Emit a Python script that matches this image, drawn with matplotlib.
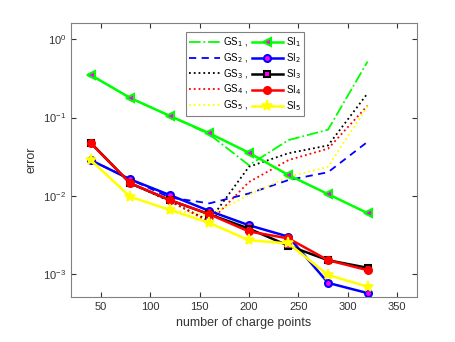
import matplotlib
matplotlib.use("Agg")
import matplotlib.pyplot as plt

x = [40, 80, 120, 160, 200, 240, 280, 320]

gs1 = [0.35, 0.178, 0.105, 0.061, 0.0246, 0.0515, 0.070, 0.52]
gs2 = [0.0286, 0.0162, 0.0095, 0.0080, 0.0107, 0.0159, 0.0200, 0.049]
gs3 = [0.047, 0.0144, 0.0085, 0.0048, 0.0235, 0.035, 0.044, 0.204]
gs4 = [0.047, 0.0145, 0.0086, 0.0046, 0.0150, 0.0286, 0.040, 0.142]
gs5 = [0.0286, 0.0097, 0.0066, 0.0056, 0.0103, 0.0175, 0.0235, 0.140]

si1 = [0.35, 0.178, 0.105, 0.063, 0.0355, 0.0184, 0.0105, 0.0060]
si2 = [0.0286, 0.0162, 0.0102, 0.0064, 0.0042, 0.0030, 0.00077, 0.00057]
si3 = [0.0476, 0.0144, 0.0088, 0.0058, 0.0038, 0.0023, 0.0015, 0.0012]
si4 = [0.047, 0.0145, 0.0088, 0.0058, 0.0035, 0.00285, 0.0015, 0.00112]
si5 = [0.0286, 0.0097, 0.0066, 0.0045, 0.0027, 0.00246, 0.00097, 0.00069]

gs_labels = ["GS$_1$ ,", "GS$_2$ ,", "GS$_3$ ,", "GS$_4$ ,", "GS$_5$ ,"]
si_labels = ["SI$_1$", "SI$_2$", "SI$_3$", "SI$_4$", "SI$_5$"]
xticks = [50, 100, 150, 200, 250, 300, 350]

plt.rcParams['font.family'] = ['Liberation Sans', 'DejaVu Sans']
fig = plt.figure(figsize=(4.55, 3.42), dpi=100)
ax = fig.add_axes([0.156, 0.1316, 0.7605, 0.8011])

green = (0, 1, 0)
blue = (0, 0, 1)
black = (0, 0, 0)
red = (1, 0, 0)
yellow = (1, 1, 0)
mag = (1, 0, 1)

hg = []
hg += ax.plot(x, gs1, color=green, ls='-.', lw=1.3, label=gs_labels[0])
hg += ax.plot(x, gs2, color=blue, ls=(0, (4, 3)), lw=1.3, label=gs_labels[1])
hg += ax.plot(x, gs3, color=black, ls=':', lw=1.3, label=gs_labels[2])
hg += ax.plot(x, gs4, color=red, ls=':', lw=1.3, label=gs_labels[3])
hg += ax.plot(x, gs5, color=yellow, ls=':', lw=1.3, label=gs_labels[4])

hs = []
hs += ax.plot(x, si1, color=green, lw=1.8, marker='<', ms=6, mfc=mag, mec=green, mew=1.5, label=si_labels[0])
hs += ax.plot(x, si2, color=blue, lw=1.8, marker='o', ms=5, mfc=mag, mec=blue, mew=1.5, label=si_labels[1])
hs += ax.plot(x, si3, color=black, lw=1.8, marker='s', ms=5, mfc=mag, mec=black, mew=1.5, label=si_labels[2])
hs += ax.plot(x, si4, color=red, lw=1.8, marker='o', ms=5, mfc=red, mec=red, mew=1.5, label=si_labels[3])
hs += ax.plot(x, si5, color=yellow, lw=1.8, marker='*', ms=8, mfc=yellow, mec=yellow, mew=1.2, label=si_labels[4])

ax.set_yscale('log')
ax.set_xlim(20, 370)
ax.set_ylim(10**-3.294, 10**0.209)
ax.set_xticks(xticks)
ax.set_xticklabels([str(t) for t in xticks])
ax.tick_params(direction='in', which='both', labelsize=8, colors='#333333', top=True, right=True)
ax.tick_params(which='minor', left=False, right=False)
for s in ax.spines.values():
    s.set_color('#808080')
    s.set_linewidth(0.8)
ax.set_xlabel("number of charge points", fontsize=9, color='#333333')
ax.set_ylabel("error", fontsize=9, color='#333333')

leg = ax.legend(hg + hs, gs_labels + si_labels, ncol=2, loc='upper left',
                bbox_to_anchor=(0.318, 0.985), fontsize=7, handlelength=3.2,
                columnspacing=0.3, handletextpad=0.3, labelspacing=0.22,
                borderpad=0.35, fancybox=False, framealpha=1, edgecolor='#808080')
leg.get_frame().set_linewidth(0.8)

fig.savefig("out.png", dpi=100)
